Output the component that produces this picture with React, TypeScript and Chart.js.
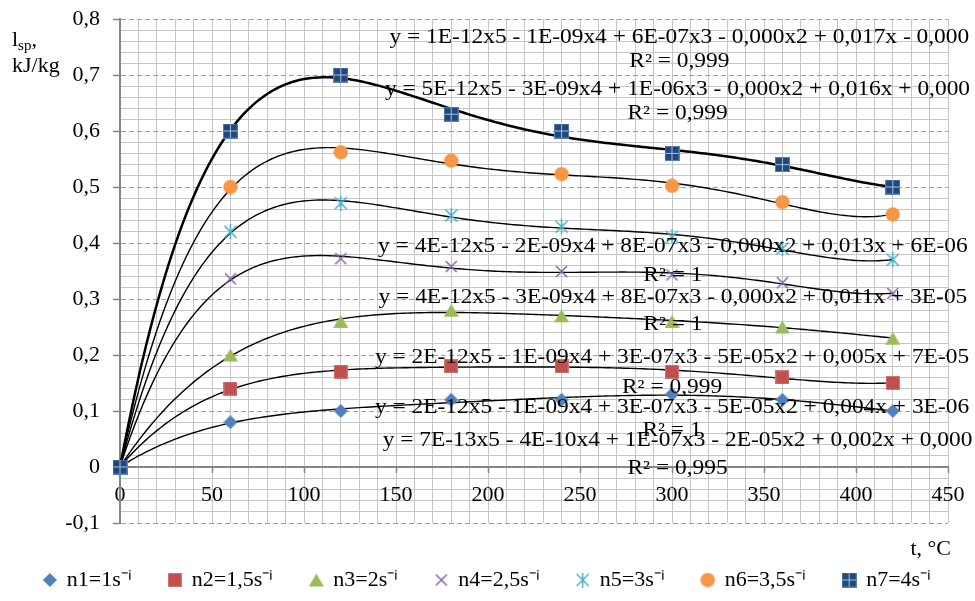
import React, { useEffect, useRef } from 'react';
import { Chart, registerables } from 'chart.js';

Chart.register(...registerables);

// ---------- data ----------
const temperaturesC = [0, 60, 120, 180, 240, 300, 360, 420];
const seriesNames = ['n1=1s⁻ⁱ', 'n2=1,5s⁻ⁱ', 'n3=2s⁻ⁱ', 'n4=2,5s⁻ⁱ', 'n5=3s⁻ⁱ', 'n6=3,5s⁻ⁱ', 'n7=4s⁻ⁱ'];
const n1Values = [0, 0.08, 0.10, 0.12, 0.12, 0.13, 0.12, 0.10];
const n2Values = [0, 0.14, 0.17, 0.18, 0.18, 0.17, 0.16, 0.15];
const n3Values = [0, 0.20, 0.26, 0.28, 0.27, 0.26, 0.25, 0.23];
const n4Values = [0, 0.336, 0.372, 0.358, 0.349, 0.343, 0.329, 0.31];
const n5Values = [0, 0.42, 0.471, 0.449, 0.429, 0.411, 0.39, 0.37];
const n6Values = [0, 0.50, 0.562, 0.547, 0.523, 0.502, 0.473, 0.451];
const n7Values = [0, 0.60, 0.70, 0.63, 0.60, 0.56, 0.54, 0.50];
const seriesValues = [n1Values, n2Values, n3Values, n4Values, n5Values, n6Values, n7Values];

const xMin = 0;
const xMax = 450;
const xMajorStep = 50;
const xMinorStep = 10;
const yMin = -0.1;
const yMax = 0.8;
const yMajorStep = 0.1;
const yMinorStep = 0.02;
const trendDegree = 5;

// trendline labels (top to bottom), anchored in data coordinates
const equationTexts = [
  'y = 1E-12x5 - 1E-09x4 + 6E-07x3 - 0,000x2 + 0,017x - 0,000',
  'y = 5E-12x5 - 3E-09x4 + 1E-06x3 - 0,000x2 + 0,016x + 0,000',
  'y = 4E-12x5 - 2E-09x4 + 8E-07x3 - 0,000x2 + 0,013x + 6E-06',
  'y = 4E-12x5 - 3E-09x4 + 8E-07x3 - 0,000x2 + 0,011x + 3E-05',
  'y = 2E-12x5 - 1E-09x4 + 3E-07x3 - 5E-05x2 + 0,005x + 7E-05',
  'y = 2E-12x5 - 1E-09x4 + 3E-07x3 - 5E-05x2 + 0,004x + 3E-06',
  'y = 7E-13x5 - 4E-10x4 + 1E-07x3 - 2E-05x2 + 0,002x + 0,000',
];
const r2Texts = ['R² = 0,999', 'R² = 0,999', 'R² = 1', 'R² = 1', 'R² = 0,999', 'R² = 1', 'R² = 0,995'];
const labelCenterT = [304, 303, 300.5, 300.5, 300, 300, 303];
const equationY = [0.766, 0.673, 0.393, 0.302, 0.195, 0.105, 0.046];
const r2Y = [0.723, 0.630, 0.341, 0.254, 0.141, 0.064, -0.003];

// ---------- styles ----------
const seriesColors = ['#4F81BD', '#C0504D', '#9BBB59', '#8064A2', '#4BACC6', '#F79646', '#1F497D'];
const markerKinds = ['diamond', 'square', 'triangle', 'x', 'asterisk', 'circle', 'crossSquare'];
const FONT = "'Liberation Serif', 'Times New Roman', serif";

Chart.defaults.font.family = FONT;

function makeMarker(kind: string, color: string): HTMLCanvasElement {
  const size = kind === 'x' ? 13 : kind === 'diamond' || kind === 'square' ? 14 : 15;
  const c = document.createElement('canvas');
  c.width = size;
  c.height = size;
  const g = c.getContext('2d') as CanvasRenderingContext2D;
  const m = size / 2;
  g.fillStyle = color;
  g.strokeStyle = color;
  switch (kind) {
    case 'diamond':
      g.beginPath();
      g.moveTo(m, 0); g.lineTo(size, m); g.lineTo(m, size); g.lineTo(0, m);
      g.closePath(); g.fill();
      break;
    case 'square':
      g.fillRect(0, 0, size, size);
      g.strokeStyle = '#CF7775';
      g.lineWidth = 1;
      g.strokeRect(0.5, 0.5, size - 1, size - 1);
      break;
    case 'triangle':
      g.beginPath();
      g.moveTo(m, 1); g.lineTo(size, size - 1); g.lineTo(0, size - 1);
      g.closePath(); g.fill();
      break;
    case 'x':
      g.lineWidth = 1.5;
      g.beginPath();
      g.moveTo(1, 1); g.lineTo(size - 1, size - 1);
      g.moveTo(size - 1, 1); g.lineTo(1, size - 1);
      g.stroke();
      break;
    case 'asterisk':
      g.lineWidth = 1.5;
      g.beginPath();
      g.moveTo(m, 0); g.lineTo(m, size);
      g.moveTo(1.5, 1.5); g.lineTo(size - 1.5, size - 1.5);
      g.moveTo(size - 1.5, 1.5); g.lineTo(1.5, size - 1.5);
      g.stroke();
      break;
    case 'circle':
      g.beginPath();
      g.arc(m, m, m - 0.3, 0, Math.PI * 2);
      g.fill();
      break;
    case 'crossSquare':
      g.fillRect(0, 0, size, size);
      g.strokeStyle = '#5B7FB0';
      g.lineWidth = 1;
      g.strokeRect(0.5, 0.5, size - 1, size - 1);
      g.strokeStyle = '#A9C0DE';
      g.beginPath();
      g.moveTo(m, 1); g.lineTo(m, size - 1);
      g.moveTo(1, m); g.lineTo(size - 1, m);
      g.stroke();
      break;
  }
  return c;
}

// least-squares polynomial trendline (like the spreadsheet's trendline)
function polyFit(xs: number[], ys: number[], degree: number) {
  const scale = Math.max(...xs);
  const n = degree + 1;
  const A: number[][] = Array.from({ length: n }, () => new Array(n + 1).fill(0));
  for (let k = 0; k < xs.length; k++) {
    const u = xs[k] / scale;
    for (let i = 0; i < n; i++) {
      for (let j = 0; j < n; j++) A[i][j] += Math.pow(u, i + j);
      A[i][n] += ys[k] * Math.pow(u, i);
    }
  }
  for (let col = 0; col < n; col++) {
    let piv = col;
    for (let r = col + 1; r < n; r++) if (Math.abs(A[r][col]) > Math.abs(A[piv][col])) piv = r;
    [A[col], A[piv]] = [A[piv], A[col]];
    for (let r = 0; r < n; r++) {
      if (r === col) continue;
      const f = A[r][col] / A[col][col];
      for (let c = col; c <= n; c++) A[r][c] -= f * A[col][c];
    }
  }
  const coef = A.map((row, i) => row[n] / row[i]);
  return (x: number) => {
    const u = x / scale;
    let s = 0;
    for (let i = n - 1; i >= 0; i--) s = s * u + coef[i];
    return s;
  };
}

function trendPoints(values: number[]) {
  const f = polyFit(temperaturesC, values, trendDegree);
  const first = temperaturesC[0];
  const last = temperaturesC[temperaturesC.length - 1];
  const pts: { x: number; y: number }[] = [];
  for (let t = first; t <= last; t += 2) pts.push({ x: t, y: f(t) });
  return pts;
}

const isMultiple = (v: number, step: number) => Math.abs(v / step - Math.round(v / step)) < 1e-6;

const textPlugin = {
  id: 'textAnnotations',
  afterDraw(chart: any) {
    const { ctx, scales, chartArea } = chart;
    const xs = scales.x;
    const ys = scales.y;
    ctx.save();
    ctx.fillStyle = '#000';
    ctx.textAlign = 'center';
    ctx.textBaseline = 'middle';
    ctx.font = `20px ${FONT}`;
    const stretch = 1.17;
    const drawStretched = (text: string, cx: number, cy: number) => {
      ctx.save();
      ctx.translate(cx, cy);
      ctx.scale(stretch, 1);
      ctx.fillText(text, 0, 0);
      ctx.restore();
    };
    for (let i = 0; i < equationTexts.length; i++) {
      const cx = xs.getPixelForValue(labelCenterT[i]);
      drawStretched(equationTexts[i], cx, ys.getPixelForValue(equationY[i]));
      drawStretched(r2Texts[i], cx, ys.getPixelForValue(r2Y[i]));
    }
    // y-axis title: l_sp, kJ/kg
    ctx.textAlign = 'left';
    ctx.textBaseline = 'alphabetic';
    const tx = chartArea.left - 108;
    const ty = chartArea.top + 27;
    ctx.font = `22px ${FONT}`;
    ctx.fillText('l', tx, ty);
    const lw = ctx.measureText('l').width;
    ctx.font = `15px ${FONT}`;
    ctx.fillText('sp', tx + lw, ty + 4);
    const sw = ctx.measureText('sp').width;
    ctx.font = `22px ${FONT}`;
    ctx.fillText(',', tx + lw + sw, ty);
    ctx.fillText('kJ/kg', tx, ty + 26);
    // x-axis title
    ctx.textAlign = 'right';
    ctx.fillText('t, °C', chartArea.right + 3, chartArea.bottom + 32);
    ctx.restore();
  },
};

export default function App() {
  const ref = useRef<HTMLCanvasElement>(null);

  useEffect(() => {
    if (!ref.current) return;
    const markerDatasets = seriesValues.map((vals, i) => ({
      label: seriesNames[i],
      data: temperaturesC.map((t, k) => ({ x: t, y: vals[k] })),
      pointStyle: makeMarker(markerKinds[i], seriesColors[i]),
      backgroundColor: seriesColors[i],
      borderColor: seriesColors[i],
      pointRadius: 7,
      showLine: false,
      clip: false,
      order: seriesValues.length - 1 - i,
    }));
    const trendDatasets = seriesValues.map((vals, i) => ({
      label: 'trend' + (i + 1),
      isTrend: true,
      data: trendPoints(vals),
      showLine: true,
      pointRadius: 0,
      borderColor: '#000',
      borderWidth: i === seriesValues.length - 1 ? 2.5 : 1.4,
      tension: 0,
      clip: false,
      order: 20,
    }));

    const tickFont = { family: FONT, size: 22 };

    const chart = new Chart(ref.current, {
      type: 'scatter',
      data: { datasets: [...markerDatasets, ...trendDatasets] as any },
      plugins: [textPlugin],
      options: {
        animation: false,
        responsive: false,
        devicePixelRatio: 1,
        font: { family: FONT },
        layout: { padding: { left: 0, right: 0, top: 19, bottom: 0 } },
        plugins: {
          tooltip: { enabled: false },
          legend: {
            display: true,
            position: 'bottom',
            align: 'center',
            labels: {
              usePointStyle: true,
              boxWidth: 12,
              boxHeight: 12,
              padding: 37,
              color: '#000',
              font: { family: FONT, size: 22 },
              filter: (item: any, data: any) => !data.datasets[item.datasetIndex].isTrend,
              sort: (a: any, b: any) => a.datasetIndex - b.datasetIndex,
            },
          },
        },
        scales: {
          xMinor: {
            type: 'linear',
            position: 'bottom',
            min: xMin,
            max: xMax,
            ticks: { display: false, stepSize: xMinorStep },
            grid: { color: '#C6C6C6', lineWidth: 1, drawTicks: false },
            border: { display: false },
            afterFit: (s: any) => { s.height = 9; },
          },
          yMinor: {
            type: 'linear',
            position: 'left',
            min: yMin,
            max: yMax,
            ticks: { display: false, stepSize: yMinorStep },
            grid: {
              color: (c: any) => (isMultiple(c.tick.value, yMajorStep) ? 'rgba(0,0,0,0)' : '#C6C6C6'),
              lineWidth: 1,
              drawTicks: false,
            },
            border: { display: false },
            afterFit: (s: any) => { s.width = 0; s.paddingTop = 0; s.paddingBottom = 0; },
          },
          rightSpace: {
            type: 'linear',
            position: 'right',
            min: yMin,
            max: yMax,
            ticks: { display: false },
            grid: { display: false, drawTicks: false },
            border: { display: false },
            afterFit: (s: any) => { s.width = 27; s.paddingTop = 0; s.paddingBottom = 0; },
          },
          x: {
            type: 'linear',
            position: { y: 0 } as any,
            min: xMin,
            max: xMax,
            ticks: {
              stepSize: xMajorStep,
              color: '#000',
              font: tickFont,
              padding: 10,
              maxRotation: 0,
              callback: (v: any) => String(v),
            },
            grid: { drawOnChartArea: false, drawTicks: true, tickLength: 5, tickColor: '#868686', tickWidth: 1.5 },
            border: { display: true, color: '#868686', width: 2 },
          },
          y: {
            type: 'linear',
            position: 'left',
            min: yMin,
            max: yMax,
            ticks: {
              stepSize: yMajorStep,
              color: '#000',
              font: tickFont,
              padding: 13,
              callback: (v: any) => {
                const r = Math.round(v * 10) / 10;
                return r === 0 ? '0' : r.toFixed(1).replace('.', ',');
              },
            },
            grid: { color: '#A0A0A0', lineWidth: 1, tickLength: 7, tickColor: '#868686', tickWidth: 1.5 },
            border: {
              display: true,
              color: '#868686',
              width: 2,
              dash: (c: any) => (c.type === 'tick' ? [5, 3] : []),
            } as any,
            afterFit: (s: any) => { s.width = 120; s.paddingTop = 0; s.paddingBottom = 0; },
          },
        },
      } as any,
    });
    return () => chart.destroy();
  }, []);

  return (
    <div style={{ position: 'absolute', left: 0, top: 0, width: 975, height: 601, background: '#fff' }}>
      <canvas ref={ref} width={975} height={601} style={{ display: 'block', width: 975, height: 601 }} />
    </div>
  );
}
